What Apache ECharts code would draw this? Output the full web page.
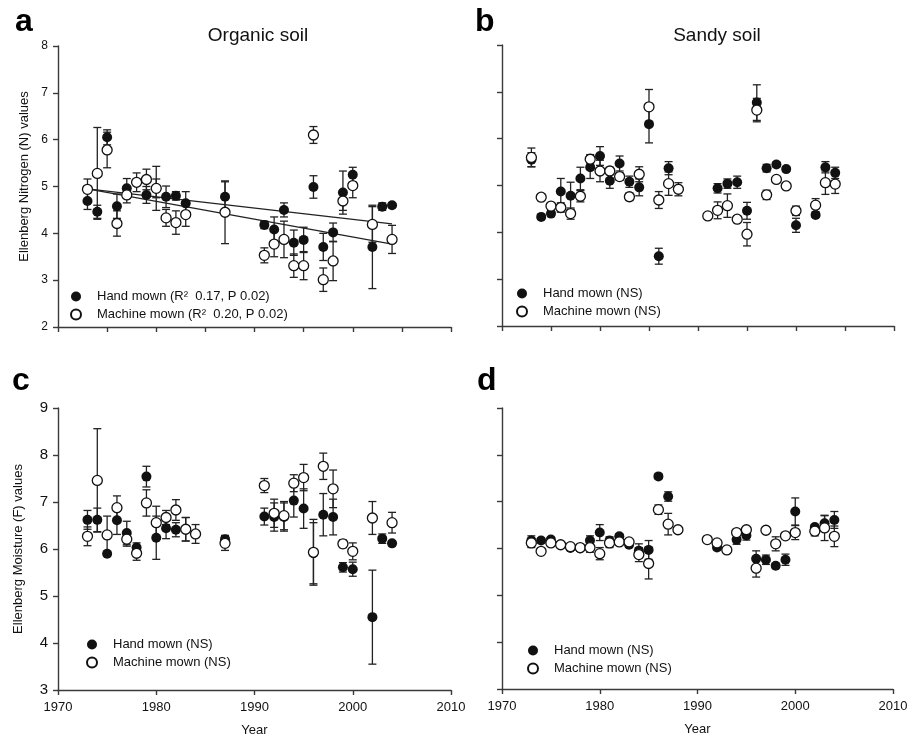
<!DOCTYPE html>
<html>
<head>
<meta charset="utf-8">
<script src="https://cdn.jsdelivr.net/npm/echarts@6/dist/echarts.min.js"></script>
<style>
  html, body { margin: 0; padding: 0; background: #fff; }
  #main { width: 919px; height: 738px; }
</style>
</head>
<body>
<div id="main"></div>
<script>
// panel a: organic soil, nitrogen
const yearsA = [1973,1974,1975,1976,1977,1978,1979,1980,1981,1982,1983,1987,1991,1992,1993,1994,1995,1996,1997,1998,1999,2000,2002,2003,2004];
const handA    = [4.69,4.46,6.05,4.58,4.96,null,4.82,4.96,4.78,4.80,4.64,4.78,4.18,4.08,4.50,3.80,3.86,4.99,3.71,4.02,4.87,5.25,3.71,4.57,4.60];
const handAErr = [0.18,0.14,0.16,0.26,0.21,null,0.18,0.20,0.23,0.09,0.25,0.32,0.08,0.27,0.15,0.27,0.27,0.24,0.29,0.20,0.46,0.16,0.89,0.08,0.05];
const machA    = [4.94,5.28,5.78,4.21,4.82,5.09,5.15,4.96,4.33,4.23,4.40,4.45,3.53,3.77,3.87,3.31,3.31,6.10,3.01,3.41,4.69,5.02,4.19,null,3.87];
const machAErr = [0.22,0.98,0.38,0.27,0.17,0.20,0.22,0.47,0.18,0.25,0.25,0.67,0.16,0.27,0.39,0.25,0.30,0.18,0.25,0.42,0.20,0.26,0.38,null,0.30];
// fitted lines (start / end)
const trendYears = [1973, 2004];
const trendHandA = [4.95, 4.20];
const trendMachA = [4.95, 3.77];

// panel b: sandy soil, nitrogen
const yearsB = [1973,1974,1975,1976,1977,1978,1979,1980,1981,1982,1983,1984,1985,1986,1987,1988,1991,1992,1993,1994,1995,1996,1997,1998,1999,2000,2002,2003,2004];
const handB    = [5.55,4.33,4.40,4.87,4.78,5.15,5.39,5.63,5.10,5.47,5.08,4.96,6.31,3.49,5.37,null,null,4.94,5.04,5.07,4.46,6.77,5.37,5.45,5.35,4.15,4.37,5.39,5.27];
const handBErr = [0.15,0.05,0.05,0.28,0.29,0.24,0.24,0.20,0.16,0.16,0.12,0.18,0.40,0.17,0.14,null,null,0.10,0.10,0.13,0.18,0.38,0.08,0.05,0.05,0.15,0.05,0.12,0.12];
const machB    = [5.60,4.75,4.56,4.53,4.40,4.77,5.56,5.31,5.31,5.19,4.76,5.24,6.68,4.69,5.04,4.92,4.35,4.47,4.57,4.28,3.96,6.61,4.80,5.13,4.99,4.46,4.58,5.06,5.03];
const machBErr = [0.20,0.07,0.07,0.10,0.12,0.12,0.10,0.23,0.08,0.08,0.08,0.16,0.37,0.18,0.25,0.14,0.05,0.18,0.25,0.07,0.25,0.25,0.10,0.05,0.05,0.10,0.14,0.25,0.20];

// panel c: organic soil, moisture
const yearsC = [1973,1974,1975,1976,1977,1978,1979,1980,1981,1982,1983,1984,1987,1991,1992,1993,1994,1995,1996,1997,1998,1999,2000,2002,2003,2004];
const handC    = [6.62,6.62,5.90,6.61,6.34,6.03,7.54,6.24,6.44,6.41,6.42,null,6.21,6.69,6.68,6.68,7.03,6.86,5.91,6.73,6.68,5.61,5.57,4.55,6.22,6.12];
const handCErr = [0.20,0.25,0.05,0.30,0.25,0.10,0.22,0.46,0.22,0.15,0.25,null,0.08,0.18,0.30,0.30,0.35,0.42,0.65,0.45,0.38,0.10,0.15,1.00,0.10,0.05];
const machC    = [6.27,7.46,6.30,6.88,6.21,5.91,6.98,6.56,6.67,6.83,6.42,6.32,6.12,7.35,6.76,6.71,7.40,7.52,5.93,7.76,7.28,6.11,5.95,6.66,null,6.56];
const machCErr = [0.20,1.10,0.40,0.25,0.15,0.15,0.28,0.35,0.15,0.22,0.25,0.20,0.15,0.15,0.30,0.30,0.18,0.28,0.70,0.28,0.40,0.08,0.18,0.35,null,0.22];

// panel d: sandy soil, moisture
const yearsD = [1973,1974,1975,1976,1977,1978,1979,1980,1981,1982,1983,1984,1985,1986,1987,1988,1991,1992,1993,1994,1995,1996,1997,1998,1999,2000,2002,2003,2004];
const handD    = [6.17,6.17,6.19,6.08,6.01,6.00,6.17,6.34,6.17,6.26,6.08,5.95,5.97,7.54,7.11,null,null,6.02,5.97,6.19,6.28,5.78,5.76,5.63,5.76,6.79,6.46,6.54,6.61];
const handDErr = [0.10,0.05,0.05,0.05,0.05,0.05,0.10,0.17,0.08,0.05,0.05,0.15,0.20,0.05,0.10,null,null,0.05,0.05,0.10,0.10,0.17,0.10,0.05,0.12,0.29,0.05,0.16,0.18];
const machD    = [6.12,5.94,6.12,6.08,6.04,6.02,6.02,5.89,6.12,6.14,6.14,5.87,5.68,6.83,6.52,6.40,6.19,6.12,5.97,6.34,6.40,5.58,6.39,6.10,6.27,6.34,6.37,6.44,6.26];
const machDErr = [0.10,0.05,0.05,0.05,0.05,0.05,0.10,0.13,0.10,0.05,0.05,0.15,0.33,0.10,0.23,0.05,0.05,0.05,0.05,0.05,0.05,0.19,0.05,0.15,0.05,0.15,0.10,0.27,0.22];

const nameHandA = 'Hand mown (R\u00B2  0.17, P 0.02)';
const nameMachA = 'Machine mown (R\u00B2  0.20, P 0.02)';
const nameHand = 'Hand mown (NS)';
const nameMach = 'Machine mown (NS)';

const ink = '#111';
const axisInk = '#3a3a3a';

function points(years, vals) {
  const out = [];
  years.forEach((y, i) => { if (vals[i] != null) out.push([y, vals[i]]); });
  return out;
}
function bars(years, vals, errs) {
  const out = [];
  years.forEach((y, i) => { if (vals[i] != null) out.push([y, vals[i] - errs[i], vals[i] + errs[i]]); });
  return out;
}

function errorSeries(idx, data) {
  return {
    type: 'custom',
    xAxisIndex: idx, yAxisIndex: idx,
    data: data,
    encode: {x: 0, y: [1, 2]},
    z: 2,
    silent: true,
    renderItem: function (params, api) {
      const x = api.value(0);
      const lo = api.coord([x, api.value(1)]);
      const hi = api.coord([x, api.value(2)]);
      const w = 4;
      const st = {stroke: '#222', lineWidth: 1.3};
      return {
        type: 'group',
        children: [
          {type: 'line', shape: {x1: lo[0], y1: lo[1], x2: hi[0], y2: hi[1]}, style: st},
          {type: 'line', shape: {x1: lo[0] - w, y1: lo[1], x2: lo[0] + w, y2: lo[1]}, style: st},
          {type: 'line', shape: {x1: hi[0] - w, y1: hi[1], x2: hi[0] + w, y2: hi[1]}, style: st}
        ]
      };
    }
  };
}
function handSeries(idx, name, data) {
  return {
    type: 'scatter', name: name, xAxisIndex: idx, yAxisIndex: idx, data: data,
    symbol: 'circle', symbolSize: 10, z: 3,
    itemStyle: {color: ink, opacity: 1}
  };
}
function machSeries(idx, name, data) {
  return {
    type: 'scatter', name: name, xAxisIndex: idx, yAxisIndex: idx, data: data,
    symbol: 'circle', symbolSize: 10, z: 4,
    itemStyle: {color: '#fff', borderColor: ink, borderWidth: 1.3, opacity: 1}
  };
}

function xAxis(idx, interval, labels) {
  return {
    type: 'value', gridIndex: idx, min: 1970, max: 2010, interval: interval,
    splitLine: {show: false},
    axisLine: {lineStyle: {color: axisInk, width: 1.4}},
    axisTick: {show: true, length: 5, lineStyle: {color: axisInk, width: 1.4}},
    axisLabel: {show: labels, fontSize: 13, color: ink, margin: 11, fontFamily: 'Arial',
      formatter: v => String(v)},
    name: labels ? 'Year' : '', nameLocation: 'middle', nameGap: 34,
    nameTextStyle: {fontSize: 13, color: ink, fontFamily: 'Arial'}
  };
}
function yAxis(idx, min, max, labels, name, fontSize, gap, pad) {
  return {
    type: 'value', gridIndex: idx, min: min, max: max, interval: 1,
    splitLine: {show: false},
    axisLine: {show: true, lineStyle: {color: axisInk, width: 1.4}},
    axisTick: {show: true, length: 5, lineStyle: {color: axisInk, width: 1.4}},
    axisLabel: {show: labels, fontSize: fontSize, color: ink, margin: 10, fontFamily: 'Arial'},
    name: name, nameLocation: 'middle', nameGap: gap,
    nameTextStyle: {fontSize: 13, color: ink, fontFamily: 'Arial', padding: pad}
  };
}
function legend(left, top, names) {
  return {
    left: left, top: top, orient: 'vertical', padding: 0, itemGap: 5,
    itemWidth: 10, itemHeight: 10, selectedMode: false,
    data: names.map(n => ({name: n, icon: 'circle'})),
    textStyle: {fontSize: 13, color: ink, fontFamily: 'Arial', padding: [0, 0, 0, 11]}
  };
}

const chart = echarts.init(document.getElementById('main'));
const option = {
  backgroundColor: '#fff',
  animation: false,
  grid: [
    {left: 58, top: 46, width: 393, height: 281},
    {left: 502, top: 45, width: 392, height: 281},
    {left: 58, top: 408, width: 393, height: 282},
    {left: 502, top: 408, width: 391, height: 281}
  ],
  xAxis: [xAxis(0, 5, false), xAxis(1, 5, false), xAxis(2, 10, true), xAxis(3, 10, true)],
  yAxis: [
    yAxis(0, 2, 8, true, 'Ellenberg Nitrogen (N) values', 12, 27, [0, 0, 0, 20]),
    yAxis(1, 2, 8, false, '', 12, 27, 0),
    yAxis(2, 3, 9, true, 'Ellenberg Moisture (F) values', 15, 33, 0),
    yAxis(3, 3, 9, false, '', 15, 33, 0)
  ],
  legend: [
    legend(70, 290, [nameHandA, nameMachA]),
    legend(516, 287, [nameHand, nameMach]),
    legend(86, 638, [nameHand, nameMach]),
    legend(527, 644, [nameHand, nameMach])
  ],
  graphic: [
    {type: 'text', x: 15, y: 22, style: {text: 'a', font: 'bold 32px Arial', fill: '#000', verticalAlign: 'middle'}},
    {type: 'text', x: 475, y: 22, style: {text: 'b', font: 'bold 32px Arial', fill: '#000', verticalAlign: 'middle'}},
    {type: 'text', x: 12, y: 381, style: {text: 'c', font: 'bold 32px Arial', fill: '#000', verticalAlign: 'middle'}},
    {type: 'text', x: 477, y: 381, style: {text: 'd', font: 'bold 32px Arial', fill: '#000', verticalAlign: 'middle'}},
    {type: 'text', x: 258, y: 36, style: {text: 'Organic soil', font: '19px Arial', fill: ink, align: 'center', verticalAlign: 'middle'}},
    {type: 'text', x: 717, y: 36, style: {text: 'Sandy soil', font: '19px Arial', fill: ink, align: 'center', verticalAlign: 'middle'}}
  ],
  series: [
    errorSeries(0, bars(yearsA, handA, handAErr)),
    errorSeries(0, bars(yearsA, machA, machAErr)),
    {
      type: 'line', xAxisIndex: 0, yAxisIndex: 0, symbol: 'none', silent: true, z: 2,
      data: points(trendYears, trendHandA), lineStyle: {color: '#222', width: 1.3}
    },
    {
      type: 'line', xAxisIndex: 0, yAxisIndex: 0, symbol: 'none', silent: true, z: 2,
      data: points(trendYears, trendMachA), lineStyle: {color: '#222', width: 1.3}
    },
    handSeries(0, nameHandA, points(yearsA, handA)),
    machSeries(0, nameMachA, points(yearsA, machA)),

    errorSeries(1, bars(yearsB, handB, handBErr)),
    errorSeries(1, bars(yearsB, machB, machBErr)),
    handSeries(1, nameHand, points(yearsB, handB)),
    machSeries(1, nameMach, points(yearsB, machB)),

    errorSeries(2, bars(yearsC, handC, handCErr)),
    errorSeries(2, bars(yearsC, machC, machCErr)),
    handSeries(2, nameHand, points(yearsC, handC)),
    machSeries(2, nameMach, points(yearsC, machC)),

    errorSeries(3, bars(yearsD, handD, handDErr)),
    errorSeries(3, bars(yearsD, machD, machDErr)),
    handSeries(3, nameHand, points(yearsD, handD)),
    machSeries(3, nameMach, points(yearsD, machD))
  ]
};
chart.setOption(option);
</script>
</body>
</html>
